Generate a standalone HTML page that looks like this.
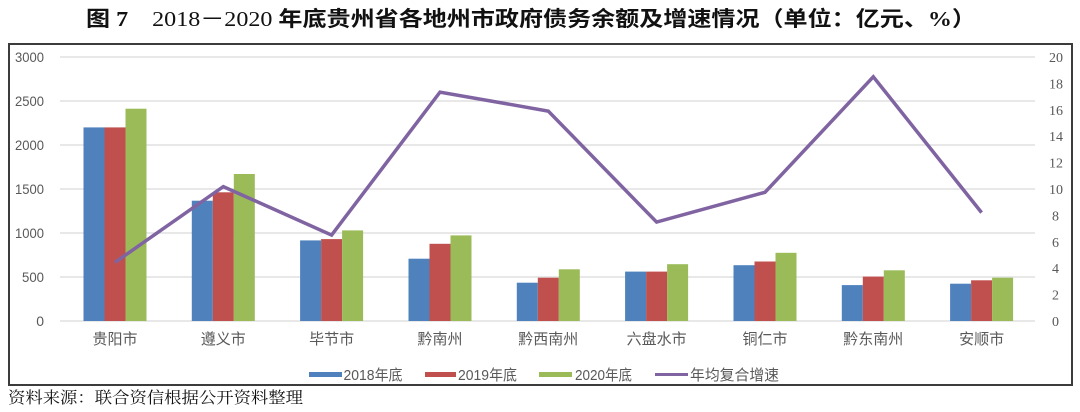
<!DOCTYPE html>
<html>
<head>
<meta charset="utf-8">
<style>
html,body{margin:0;padding:0;background:#fff;}
svg{display:block;}
</style>
</head>
<body>
<svg width="1080" height="412" viewBox="0 0 1080 412" xmlns="http://www.w3.org/2000/svg">
<rect x="0" y="0" width="1080" height="412" fill="#ffffff"/>
<!-- Title -->
<text x="86" y="26" font-family="Liberation Serif, 'Noto Sans CJK SC', sans-serif" font-size="21" font-weight="bold" fill="#111" textLength="890" lengthAdjust="spacingAndGlyphs">图 7　<tspan font-weight="normal">2018－2020</tspan> 年底贵州省各地州市政府债务余额及增速情况（单位：亿元、%）</text>

<!-- Frame -->
<rect x="9" y="44" width="1063" height="341" fill="none" stroke="#3c3c3c" stroke-width="2"/>

<!-- Gridlines -->
<g stroke="#d9d9d9" stroke-width="1.2">
<line x1="60" y1="57" x2="1035" y2="57"/>
<line x1="60" y1="101" x2="1035" y2="101"/>
<line x1="60" y1="145" x2="1035" y2="145"/>
<line x1="60" y1="189" x2="1035" y2="189"/>
<line x1="60" y1="233" x2="1035" y2="233"/>
<line x1="60" y1="277" x2="1035" y2="277"/>
<line x1="60" y1="321" x2="1035" y2="321"/>
</g>

<!-- Left axis labels -->
<g font-family="Liberation Sans, sans-serif" font-size="14" fill="#595959" text-anchor="end">
<text x="44" y="62" textLength="29" lengthAdjust="spacingAndGlyphs">3000</text>
<text x="44" y="106" textLength="29" lengthAdjust="spacingAndGlyphs">2500</text>
<text x="44" y="150" textLength="29" lengthAdjust="spacingAndGlyphs">2000</text>
<text x="44" y="194" textLength="29" lengthAdjust="spacingAndGlyphs">1500</text>
<text x="44" y="238" textLength="29" lengthAdjust="spacingAndGlyphs">1000</text>
<text x="44" y="282" textLength="22" lengthAdjust="spacingAndGlyphs">500</text>
<text x="44" y="326">0</text>
</g>

<!-- Right axis labels -->
<g font-family="Liberation Serif, serif" font-size="14" fill="#595959">
<text x="1049" y="62">20</text>
<text x="1049" y="88.4">18</text>
<text x="1049" y="114.8">16</text>
<text x="1049" y="141.2">14</text>
<text x="1049" y="167.6">12</text>
<text x="1049" y="194">10</text>
<text x="1052" y="220.4">8</text>
<text x="1052" y="246.8">6</text>
<text x="1052" y="273.2">4</text>
<text x="1052" y="299.6">2</text>
<text x="1052" y="326">0</text>
</g>

<!-- Bars: blue -->
<g fill="#4f81bd">
<rect x="83.5" y="127.4" width="21" height="193.6"/>
<rect x="191.8" y="200.7" width="21" height="120.3"/>
<rect x="300.1" y="240.4" width="21" height="80.6"/>
<rect x="408.5" y="258.7" width="21" height="62.3"/>
<rect x="516.8" y="282.7" width="21" height="38.3"/>
<rect x="625.1" y="271.6" width="21" height="49.4"/>
<rect x="733.5" y="265.2" width="21" height="55.8"/>
<rect x="841.8" y="285.1" width="21" height="35.9"/>
<rect x="950.1" y="283.7" width="21" height="37.3"/>
</g>
<!-- Bars: red -->
<g fill="#c0504d">
<rect x="104.5" y="127.4" width="21" height="193.6"/>
<rect x="212.8" y="192.3" width="21" height="128.7"/>
<rect x="321.1" y="239.1" width="21" height="81.9"/>
<rect x="429.5" y="243.8" width="21" height="77.2"/>
<rect x="537.8" y="277.7" width="21" height="43.3"/>
<rect x="646.1" y="271.6" width="21" height="49.4"/>
<rect x="754.5" y="261.5" width="21" height="59.5"/>
<rect x="862.8" y="276.6" width="21" height="44.4"/>
<rect x="971.1" y="280.3" width="21" height="40.7"/>
</g>
<!-- Bars: green -->
<g fill="#9bbb59">
<rect x="125.5" y="108.7" width="21" height="212.3"/>
<rect x="233.8" y="174" width="21" height="147"/>
<rect x="342.1" y="230.4" width="21" height="90.6"/>
<rect x="450.5" y="235.4" width="21" height="85.6"/>
<rect x="558.8" y="269.3" width="21" height="51.7"/>
<rect x="667.1" y="264.2" width="21" height="56.8"/>
<rect x="775.5" y="252.8" width="21" height="68.2"/>
<rect x="883.8" y="270.3" width="21" height="50.7"/>
<rect x="992.1" y="277.7" width="21" height="43.3"/>
</g>

<!-- Line -->
<polyline fill="none" stroke="#8064a2" stroke-width="3.5" stroke-linejoin="miter" stroke-linecap="butt"
 points="115,262.4 223.3,186.6 331.6,235.1 440,92.1 548.3,111.1 656.6,222.1 765,192.3 873.3,76.8 981.6,212.6"/>

<!-- Category labels -->
<g font-family="Liberation Sans, 'Noto Sans CJK SC', sans-serif" font-size="15" fill="#595959" text-anchor="middle">
<text x="115" y="344">贵阳市</text>
<text x="223.3" y="344">遵义市</text>
<text x="331.6" y="344">毕节市</text>
<text x="440" y="344">黔南州</text>
<text x="548.3" y="344">黔西南州</text>
<text x="656.6" y="344">六盘水市</text>
<text x="765" y="344">铜仁市</text>
<text x="873.3" y="344">黔东南州</text>
<text x="981.6" y="344">安顺市</text>
</g>

<!-- Legend -->
<rect x="309" y="372" width="33" height="5" fill="#4f81bd"/>
<rect x="425" y="372" width="31" height="5" fill="#c0504d"/>
<rect x="539" y="372" width="33" height="5" fill="#9bbb59"/>
<line x1="655" y1="374.5" x2="688" y2="374.5" stroke="#8064a2" stroke-width="3"/>
<g font-family="Liberation Sans, 'Noto Sans CJK SC', sans-serif" font-size="15" fill="#595959">
<text x="343.5" y="380" textLength="59" lengthAdjust="spacingAndGlyphs">2018年底</text>
<text x="458" y="380" textLength="59" lengthAdjust="spacingAndGlyphs">2019年底</text>
<text x="575" y="380" textLength="57" lengthAdjust="spacingAndGlyphs">2020年底</text>
<text x="690" y="380" textLength="89" lengthAdjust="spacingAndGlyphs">年均复合增速</text>
</g>

<!-- Source -->
<text x="8" y="403" font-family="Liberation Serif, 'Noto Serif CJK SC', serif" font-size="16" fill="#111" textLength="295" lengthAdjust="spacingAndGlyphs">资料来源：联合资信根据公开资料整理</text>
</svg>
</body>
</html>
